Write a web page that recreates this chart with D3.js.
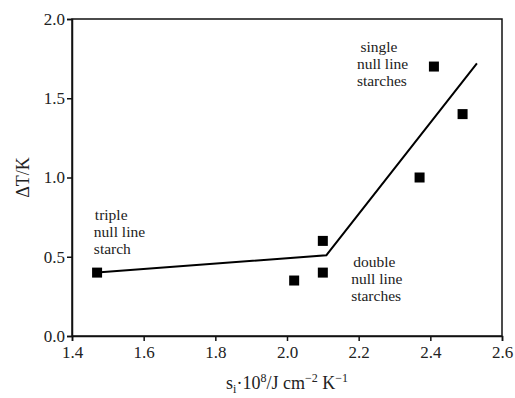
<!DOCTYPE html>
<html>
<head>
<meta charset="utf-8">
<script src="https://cdn.jsdelivr.net/npm/d3@7"></script>
<style>
  body { margin: 0; background: #fff; }
</style>
</head>
<body>
<svg width="515" height="398" font-family="Liberation Serif"></svg>
<script>
// measured points
var sValues = [1.47, 2.02, 2.10, 2.10, 2.37, 2.41, 2.49];
var dTValues = [0.40, 0.35, 0.60, 0.40, 1.00, 1.70, 1.40];

// fitted two-segment line
var fitS = [1.47, 2.11, 2.53];
var fitDT = [0.40, 0.51, 1.72];

var xTicks = [1.4, 1.6, 1.8, 2.0, 2.2, 2.4, 2.6];
var yTicks = [0.0, 0.5, 1.0, 1.5, 2.0];

// group labels
var labelLines = [
  ["triple", "null line", "starch"],
  ["double", "null line", "starches"],
  ["single", "null line", "starches"]
];
var labelAt = [[1.461, 0.732], [2.179, 0.437], [2.195, 1.794]];
var firstIndent = [1, 2, 3.5];

var FONT = "Liberation Serif";

var svg = d3.select("svg");
var margin = { left: 72, right: 13, top: 19, bottom: 62 };
var width = 515 - margin.left - margin.right,
    height = 398 - margin.top - margin.bottom;

var x = d3.scaleLinear().domain([1.4, 2.6]).range([0, width]);
var y = d3.scaleLinear().domain([0, 2]).range([height, 0]);

var g = svg.append("g").attr("transform", "translate(" + margin.left + "," + margin.top + ")");

// frame
g.append("rect")
  .attr("width", width).attr("height", height)
  .attr("fill", "none").attr("stroke", "#111").attr("stroke-width", 1.5);

var xAxis = g.append("g")
  .attr("transform", "translate(0," + height + ")")
  .call(d3.axisBottom(x).tickValues(xTicks).tickFormat(d3.format(".1f")).tickSize(5).tickPadding(5));
var yAxis = g.append("g")
  .call(d3.axisLeft(y).tickValues(yTicks).tickFormat(d3.format(".1f")).tickSize(5).tickPadding(2));

[xAxis, yAxis].forEach(function(a) {
  a.attr("font-family", FONT).attr("font-size", 17);
  a.select(".domain").attr("stroke", "#111").attr("stroke-width", 1.5);
  a.selectAll(".tick line").attr("stroke", "#111").attr("stroke-width", 1.5);
  a.selectAll(".tick text").attr("fill", "#222").attr("font-family", FONT);
});

// fit line
var line = d3.line().x(function(d) { return x(d[0]); }).y(function(d) { return y(d[1]); });
g.append("path")
  .datum(d3.zip(fitS, fitDT))
  .attr("d", line)
  .attr("fill", "none").attr("stroke", "#000").attr("stroke-width", 2);

// points
var sz = 10;
g.selectAll(".pt")
  .data(d3.zip(sValues, dTValues))
  .enter().append("rect")
  .attr("class", "pt")
  .attr("x", function(d) { return x(d[0]) - sz / 2; })
  .attr("y", function(d) { return y(d[1]) - sz / 2; })
  .attr("width", sz).attr("height", sz)
  .attr("fill", "#000");

// labels
labelLines.forEach(function(lines, i) {
  var x0 = x(labelAt[i][0]);
  var t = g.append("text")
    .attr("x", x0)
    .attr("y", y(labelAt[i][1]))
    .attr("font-family", FONT)
    .attr("font-size", 15.5).attr("fill", "#222");
  lines.forEach(function(l, j) {
    t.append("tspan").attr("x", x0 + (j == 0 ? firstIndent[i] : 0)).attr("dy", j == 0 ? 0 : 17).text(l);
  });
});

// axis titles
svg.append("text")
  .attr("transform", "translate(29," + (margin.top + height / 2) + ") rotate(-90)")
  .attr("text-anchor", "middle").attr("font-size", 18).attr("fill", "#222")
  .attr("font-family", FONT)
  .text("ΔT/K");

var xt = svg.append("text")
  .attr("x", margin.left + width / 2).attr("y", 389)
  .attr("text-anchor", "middle").attr("font-size", 18).attr("fill", "#222")
  .attr("font-family", FONT);
xt.append("tspan").text("s");
xt.append("tspan").attr("font-size", 12).attr("dy", 4).text("i");
xt.append("tspan").attr("dy", -4).text("·10");
xt.append("tspan").attr("font-size", 12).attr("dy", -7).text("8");
xt.append("tspan").attr("dy", 7).text("/J cm");
xt.append("tspan").attr("font-size", 12).attr("dy", -7).text("−2");
xt.append("tspan").attr("dy", 7).text(" K");
xt.append("tspan").attr("font-size", 12).attr("dy", -7).text("−1");
</script>
</body>
</html>
